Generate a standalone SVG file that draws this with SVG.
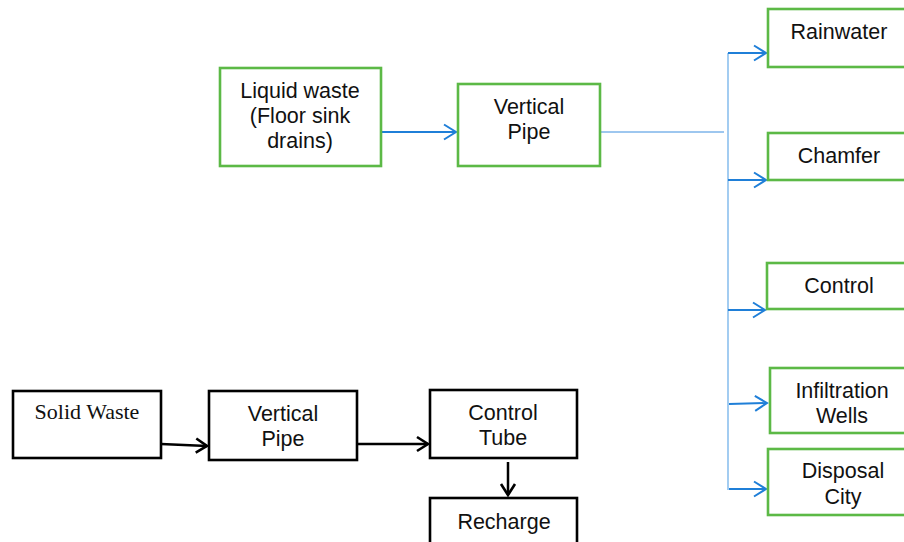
<svg xmlns="http://www.w3.org/2000/svg" width="904" height="542" viewBox="0 0 904 542">
<style>
.g{fill:#fff;stroke:#5cb946;stroke-width:2.6}
.k{fill:#fff;stroke:#000;stroke-width:2.6}
.t{font-family:"Liberation Sans",Arial,sans-serif;font-size:21.5px;fill:#111;text-anchor:middle}
.s{font-family:"Liberation Serif","Times New Roman",serif;font-size:22px;fill:#111;text-anchor:middle}
.b{stroke:#1f7fd8;stroke-width:2;fill:none}
.bk{stroke:#000;stroke-width:2.5;fill:none}
</style>
<defs>
<marker id="ab" markerWidth="16" markerHeight="18" refX="13" refY="9" orient="auto" markerUnits="userSpaceOnUse">
<path d="M1,1.5 L13,9 L1,16.5" fill="none" stroke="#1f7fd8" stroke-width="2"/>
</marker>
<marker id="ak" markerWidth="16" markerHeight="18" refX="13" refY="9" orient="auto" markerUnits="userSpaceOnUse">
<path d="M2,2 L13,9 L2,16" fill="none" stroke="#000" stroke-width="2.6"/>
</marker>
</defs>
<g id="connectors">
<line class="b" x1="381" y1="132" x2="456" y2="132" marker-end="url(#ab)"/>
<line x1="600" y1="132" x2="724" y2="132" stroke="#3d8fdf" stroke-width="1"/>
<line x1="728" y1="53" x2="728" y2="490" stroke="#8cc0ee" stroke-width="1.6"/>
<line class="b" x1="728" y1="53" x2="766" y2="53" marker-end="url(#ab)"/>
<line class="b" x1="728" y1="180" x2="766" y2="180" marker-end="url(#ab)"/>
<line class="b" x1="728" y1="310" x2="765" y2="310" marker-end="url(#ab)"/>
<line class="b" x1="729" y1="404" x2="767" y2="403" marker-end="url(#ab)"/>
<line class="b" x1="729" y1="489" x2="766" y2="489" marker-end="url(#ab)"/>
<line class="bk" x1="161" y1="444" x2="207" y2="446" marker-end="url(#ak)"/>
<line class="bk" x1="357" y1="444" x2="428" y2="444" marker-end="url(#ak)"/>
<line class="bk" x1="508" y1="462" x2="508" y2="495" marker-end="url(#ak)"/>
</g>
<g id="liquid"><rect class="g" x="220" y="68" width="161" height="98"/>
<text class="t" x="300" y="98">Liquid waste</text><text class="t" x="300" y="123">(Floor sink</text><text class="t" x="300" y="148">drains)</text></g>
<g id="vpipe1"><rect class="g" x="458" y="84" width="142" height="82"/>
<text class="t" x="529" y="114">Vertical</text><text class="t" x="529" y="139">Pipe</text></g>
<g id="rainwater"><rect class="g" x="768" y="9" width="142" height="58"/>
<text class="t" x="839" y="39">Rainwater</text></g>
<g id="chamfer"><rect class="g" x="768" y="133" width="142" height="47"/>
<text class="t" x="839" y="163">Chamfer</text></g>
<g id="control"><rect class="g" x="767" y="263" width="143" height="46"/>
<text class="t" x="839" y="293">Control</text></g>
<g id="infiltration"><rect class="g" x="770" y="368" width="140" height="65"/>
<text class="t" x="842" y="398">Infiltration</text><text class="t" x="842" y="423">Wells</text></g>
<g id="disposal"><rect class="g" x="768" y="449" width="142" height="66"/>
<text class="t" x="843" y="478">Disposal</text><text class="t" x="843" y="504">City</text></g>
<g id="solid"><rect class="k" x="13" y="391" width="148" height="67"/>
<text class="s" x="87" y="419">Solid Waste</text></g>
<g id="vpipe2"><rect class="k" x="209" y="391" width="148" height="69"/>
<text class="t" x="283" y="421">Vertical</text><text class="t" x="283" y="446">Pipe</text></g>
<g id="ctube"><rect class="k" x="430" y="390" width="147" height="68"/>
<text class="t" x="503" y="420">Control</text><text class="t" x="503" y="445">Tube</text></g>
<g id="recharge"><rect class="k" x="430" y="498" width="147" height="50"/>
<text class="t" x="504" y="529">Recharge</text></g>
</svg>
